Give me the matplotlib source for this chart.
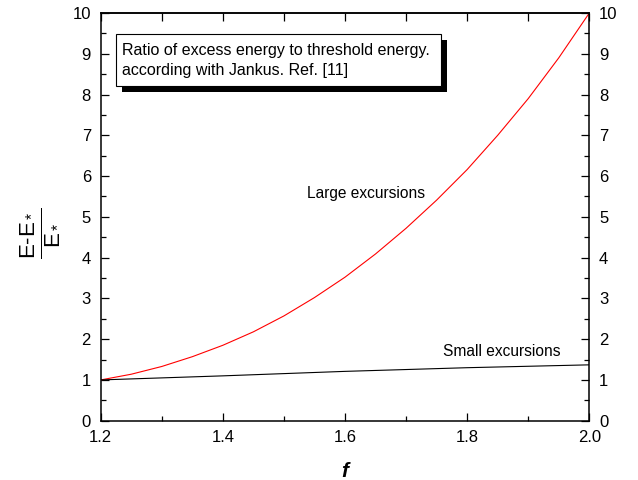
import numpy as np
import matplotlib
matplotlib.use('Agg')
import matplotlib.pyplot as plt
from matplotlib.patches import Rectangle
from matplotlib.ticker import MultipleLocator

plt.rcParams['font.family'] = ['Liberation Sans', 'DejaVu Sans']
plt.rcParams['mathtext.fontset'] = 'custom'
plt.rcParams['mathtext.rm'] = 'Liberation Sans'
plt.rcParams['mathtext.it'] = 'Liberation Sans:italic'
plt.rcParams['mathtext.bf'] = 'Liberation Sans:bold'

# values
f_large = [1.20, 1.25, 1.30, 1.35, 1.40, 1.45, 1.50, 1.55, 1.60,
           1.65, 1.70, 1.75, 1.80, 1.85, 1.90, 1.95, 2.00]
ratio_large = [1.00, 1.14, 1.33, 1.57, 1.85, 2.18, 2.57, 3.02, 3.52,
               4.09, 4.72, 5.41, 6.16, 7.00, 7.90, 8.90, 10.00]

f_small = [1.2, 1.3, 1.4, 1.5, 1.6, 1.7, 1.8, 1.9, 2.0]
ratio_small = [1.00, 1.05, 1.10, 1.155, 1.21, 1.255, 1.30, 1.335, 1.37]

fig = plt.figure(figsize=(6.38, 4.8), dpi=100)
ax = fig.add_axes([100.7 / 638, 1 - 420.7 / 480, 488.6 / 638, 407.7 / 480])

ax.plot(f_large, ratio_large, color='red', lw=0.8)
ax.plot(f_small, ratio_small, color='black', lw=0.8)

ax.set_xlim(1.2, 2.0)
ax.set_ylim(0, 10)
ax.xaxis.set_major_locator(MultipleLocator(0.2))
ax.xaxis.set_minor_locator(MultipleLocator(0.1))
ax.yaxis.set_major_locator(MultipleLocator(1))
ax.yaxis.set_minor_locator(MultipleLocator(0.5))
ax.xaxis.set_major_formatter(matplotlib.ticker.FormatStrFormatter('%.1f'))

for sp in ax.spines.values():
    sp.set_linewidth(1.1)

ax.tick_params(which='both', direction='in', labelsize=12, width=0.9,
               left=True, right=True, bottom=True, top=False,
               labelright=True, pad=7)
ax.tick_params(which='major', length=6)
ax.tick_params(which='minor', length=3.5)

# top axis: evenly sized ticks, no labels
top = ax.secondary_xaxis('top')
top.set_xticks(np.arange(1.2, 2.01, 0.1))
top.tick_params(direction='in', length=6, width=0.9, labeltop=False)
top.spines['top'].set_linewidth(1.1)

ax.set_xlabel('f', fontsize=15, fontweight='bold', fontstyle='italic',
              labelpad=12)
ax.text(-0.128, 0.46, r'$\dfrac{\mathrm{E\text{-}E_*}}{\mathrm{E_*}}$',
        transform=ax.transAxes, rotation=90, fontsize=16,
        ha='center', va='center')

ax.text(1.634, 5.58, 'Large excursions', fontsize=11.2,
        ha='center', va='center')
ax.text(1.857, 1.69, 'Small excursions', fontsize=11.2,
        ha='center', va='center')

# annotation box with drop shadow
bx0, bx1 = 0.0313, 0.6959
by0, by1 = 0.8209, 0.9485
dx, dy = 0.0123, -0.0147
ax.add_patch(Rectangle((bx0 + dx, by0 + dy), bx1 - bx0, by1 - by0,
                       transform=ax.transAxes, facecolor='black',
                       edgecolor='black', lw=0, zorder=5))
ax.add_patch(Rectangle((bx0, by0), bx1 - bx0, by1 - by0,
                       transform=ax.transAxes, facecolor='white',
                       edgecolor='black', lw=0.8, zorder=6))
ax.text(0.043, 0.909, 'Ratio of excess energy to threshold energy.',
        transform=ax.transAxes, fontsize=11.5, va='center', ha='left',
        zorder=7)
ax.text(0.043, 0.860, 'according with Jankus. Ref. [11]',
        transform=ax.transAxes, fontsize=11.5, va='center', ha='left',
        zorder=7)

fig.savefig('out.png', dpi=100)
